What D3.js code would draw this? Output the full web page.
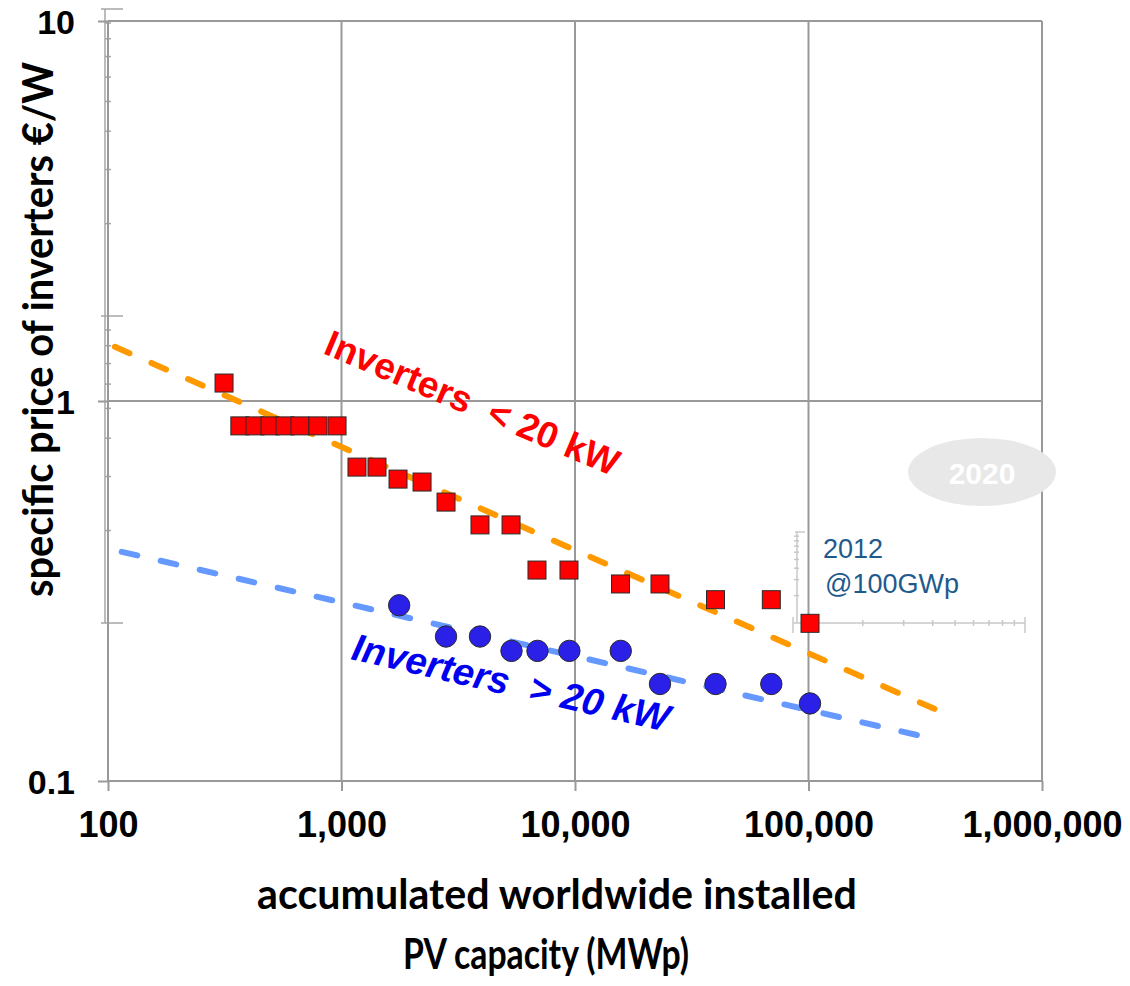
<!DOCTYPE html>
<html>
<head>
<meta charset="utf-8">
<script src="https://cdn.jsdelivr.net/npm/d3@7"></script>
<style>
	body { margin: 0; background: white; }
	svg { display: block; }
</style>
</head>
<body>
<svg></svg>
<script>

// red squares, inverters < 20 kW (MWp, EUR/W)
var smallCap = [314, 367, 426, 494, 573, 664, 793, 957, 1165, 1419, 1746, 2213, 2803, 3918, 5322, 6874, 9424, 15664, 23120, 39970, 69300, 101500];
var smallPrice = [1.115, 0.86, 0.86, 0.86, 0.86, 0.86, 0.86, 0.86, 0.67, 0.67, 0.623, 0.612, 0.542, 0.472, 0.472, 0.359, 0.359, 0.33, 0.33, 0.30, 0.30, 0.26];

// blue circles, inverters > 20 kW
var bigCap = [1766, 2803, 3918, 5346, 6907, 9460, 15700, 23120, 39970, 69300, 101500];
var bigPrice = [0.29, 0.24, 0.24, 0.22, 0.22, 0.22, 0.22, 0.18, 0.18, 0.18, 0.16];

// dashed trend lines, start and end points
var smallTrendCap = [107, 348000];
var smallTrendPrice = [1.389, 0.1546];
var bigTrendCap = [114.5, 331000];
var bigTrendPrice = [0.401, 0.1298];

var xTicks = [100, 1000, 10000, 100000, 1000000];
var yTicks = [0.1, 1, 10];
var yTickLabels = ["0.1", "1", "10"];

var w = 1130,
    h = 986,
    plotLeft = 108,
    plotRight = 1042,
    plotTop = 21,
    plotBottom = 781;

var svg = d3.select("svg")
			.attr("width", w)
			.attr("height", h)
			.style("background-color", "white")

var x = d3.scaleLog()
	.domain([100, 1000000])
	.range([plotLeft, plotRight])
var y = d3.scaleLog()
	.domain([0.1, 10])
	.range([plotBottom, plotTop])

// faint leftover axes from the pasted picture
var ghost = svg.append("g")
	.attr("stroke", "#a6a6a6")
	.attr("stroke-width", 1.5)
var gy = d3.scaleLog().domain([1, 100]).range([623, 9])
ghost.append("line")
	.attr("x1", 105).attr("x2", 105)
	.attr("y1", gy(100)).attr("y2", gy(1))
ghost.selectAll(".gmaj")
	.data([1, 10, 100])
	.join("line")
	.attr("x1", 101).attr("x2", 123)
	.attr("y1", function(d){ return gy(d); })
	.attr("y2", function(d){ return gy(d); })
ghost.selectAll(".gmin")
	.data(gy.ticks().filter(function(d){ return [1, 10, 100].indexOf(d) < 0; }))
	.join("line")
	.attr("x1", 105).attr("x2", 111)
	.attr("y1", function(d){ return gy(d); })
	.attr("y2", function(d){ return gy(d); })

var inset = svg.append("g")
	.attr("stroke", "#c8c8c8")
	.attr("stroke-width", 1.5)
var ix = d3.scaleLog().domain([1, 10]).range([793, 1025])
var iy = d3.scaleLog().domain([1, 10]).range([623, 532])
inset.append("line")
	.attr("x1", ix(1)).attr("x2", ix(10))
	.attr("y1", 623).attr("y2", 623)
inset.append("line")
	.attr("x1", 797).attr("x2", 797)
	.attr("y1", iy(10)).attr("y2", iy(1))
inset.append("line")
	.attr("x1", 795).attr("x2", 805)
	.attr("y1", iy(10)).attr("y2", iy(10))
inset.selectAll(".ixt")
	.data(ix.ticks())
	.join("line")
	.attr("x1", function(d){ return ix(d); })
	.attr("x2", function(d){ return ix(d); })
	.attr("y1", function(d){ return (d == 1 || d == 10) ? 617 : 620; })
	.attr("y2", function(d){ return (d == 1 || d == 10) ? 633 : 626; })
inset.selectAll(".iyt")
	.data(iy.ticks().filter(function(d){ return d > 1 && d < 10; }))
	.join("line")
	.attr("x1", 794).attr("x2", 799)
	.attr("y1", function(d){ return iy(d); })
	.attr("y2", function(d){ return iy(d); })

// grid
svg.append("g")
	.selectAll("line")
	.data(xTicks)
	.join("line")
	.attr("x1", function(d){ return x(d); })
	.attr("x2", function(d){ return x(d); })
	.attr("y1", plotTop)
	.attr("y2", plotBottom)
	.attr("stroke", "#999")
	.attr("stroke-width", 2)
svg.append("g")
	.selectAll("line")
	.data(yTicks)
	.join("line")
	.attr("x1", plotLeft)
	.attr("x2", plotRight)
	.attr("y1", function(d){ return y(d); })
	.attr("y2", function(d){ return y(d); })
	.attr("stroke", "#999")
	.attr("stroke-width", 2)

// axes
var xAxis = svg.append("g")
	.attr("transform", "translate(0," + plotBottom + ")")
	.call(d3.axisBottom(x)
		.tickValues(xTicks)
		.tickFormat(d3.format(","))
		.tickSize(10)
		.tickPadding(20))
xAxis.select(".domain").remove()
xAxis.selectAll("line").attr("stroke", "#999").attr("stroke-width", 2)
xAxis.selectAll("text")
	.attr("fill", "black")
	.style("font-family", "'Liberation Sans', Arial, sans-serif")
	.style("font-weight", "bold")
	.style("font-size", "36px")

var yAxis = svg.append("g")
	.attr("transform", "translate(" + plotLeft + ",0)")
	.call(d3.axisLeft(y)
		.tickValues(yTicks)
		.tickFormat(function(d, i){ return yTickLabels[i]; })
		.tickSize(10)
		.tickPadding(23))
yAxis.select(".domain").remove()
yAxis.selectAll("line").attr("stroke", "#999").attr("stroke-width", 2)
yAxis.selectAll("text")
	.attr("fill", "black")
	.attr("dy", "0.36em")
	.style("font-family", "'Liberation Sans', Arial, sans-serif")
	.style("font-weight", "bold")
	.style("font-size", "34px")

// 2020 badge
svg.append("ellipse")
	.attr("cx", 982)
	.attr("cy", 472)
	.attr("rx", 74)
	.attr("ry", 34)
	.attr("fill", "#e8e8e8")
svg.append("text")
	.attr("x", 982)
	.attr("y", 484)
	.attr("text-anchor", "middle")
	.attr("fill", "white")
	.style("font-family", "'Liberation Sans', Arial, sans-serif")
	.style("font-weight", "bold")
	.style("font-size", "30px")
	.text("2020")

var note = svg.append("text")
	.attr("fill", "#1f5a8c")
	.style("font-family", "'Liberation Sans', Arial, sans-serif")
	.style("font-size", "27px")
note.append("tspan").attr("x", 823).attr("y", 558).text("2012")
note.append("tspan").attr("x", 825).attr("y", 593).text("@100GWp")

// trend lines
var line = d3.line()
	.x(function(d){ return x(d[0]); })
	.y(function(d){ return y(d[1]); })

svg.append("path")
	.datum(d3.zip(smallTrendCap, smallTrendPrice))
	.attr("d", line)
	.attr("fill", "none")
	.attr("stroke", "#ff9900")
	.attr("stroke-width", 6)
	.attr("stroke-linecap", "round")
	.attr("stroke-dasharray", "16,24")
svg.append("path")
	.datum(d3.zip(bigTrendCap, bigTrendPrice))
	.attr("d", line)
	.attr("fill", "none")
	.attr("stroke", "#6699ff")
	.attr("stroke-width", 6)
	.attr("stroke-linecap", "round")
	.attr("stroke-dasharray", "16,24")

// markers
var sq = 18;
svg.append("g")
	.selectAll("rect")
	.data(d3.zip(smallCap, smallPrice))
	.join("rect")
	.attr("x", function(d){ return x(d[0]) - sq/2; })
	.attr("y", function(d){ return y(d[1]) - sq/2; })
	.attr("width", sq)
	.attr("height", sq)
	.attr("fill", "#ff0000")
	.attr("stroke", "#2a2a2a")
	.attr("stroke-width", 1)

svg.append("g")
	.selectAll("circle")
	.data(d3.zip(bigCap, bigPrice))
	.join("circle")
	.attr("cx", function(d){ return x(d[0]); })
	.attr("cy", function(d){ return y(d[1]); })
	.attr("r", 10.7)
	.attr("fill", "#2b20e8")
	.attr("stroke", "#2a2a2a")
	.attr("stroke-width", 1)

// series labels
svg.append("text")
	.attr("transform", "translate(322,353) rotate(23)")
	.attr("fill", "#ff0000")
	.style("white-space", "pre")
	.style("font-family", "'Liberation Sans', Arial, sans-serif")
	.style("font-weight", "bold")
	.style("font-size", "37px")
	.text("Inverters  < 20 kW")
svg.append("text")
	.attr("transform", "translate(350,659) rotate(13)")
	.attr("fill", "#0000f0")
	.style("white-space", "pre")
	.style("font-family", "'Liberation Sans', Arial, sans-serif")
	.style("font-weight", "bold")
	.style("font-style", "italic")
	.style("font-size", "38px")
	.text("Inverters  > 20 kW")

// axis titles
svg.append("text")
	.attr("transform", "translate(53,597) rotate(-90)")
	.attr("textLength", 535)
	.attr("lengthAdjust", "spacingAndGlyphs")
	.attr("fill", "black")
	.style("font-family", "Lato, 'Noto Sans', sans-serif")
	.style("font-weight", "bold")
	.style("font-size", "42px")
	.text("specific price of inverters €/W")
svg.append("text")
	.attr("x", 257)
	.attr("y", 909)
	.attr("textLength", 600)
	.attr("lengthAdjust", "spacingAndGlyphs")
	.attr("fill", "black")
	.style("font-family", "Lato, 'Noto Sans', sans-serif")
	.style("font-weight", "bold")
	.style("font-size", "42px")
	.text("accumulated worldwide installed")
svg.append("text")
	.attr("x", 403)
	.attr("y", 969)
	.attr("textLength", 286)
	.attr("lengthAdjust", "spacingAndGlyphs")
	.attr("fill", "black")
	.style("font-family", "Lato, 'Noto Sans', sans-serif")
	.style("font-weight", "bold")
	.style("font-size", "42px")
	.text("PV capacity (MWp)")

</script>
</body>
</html>
